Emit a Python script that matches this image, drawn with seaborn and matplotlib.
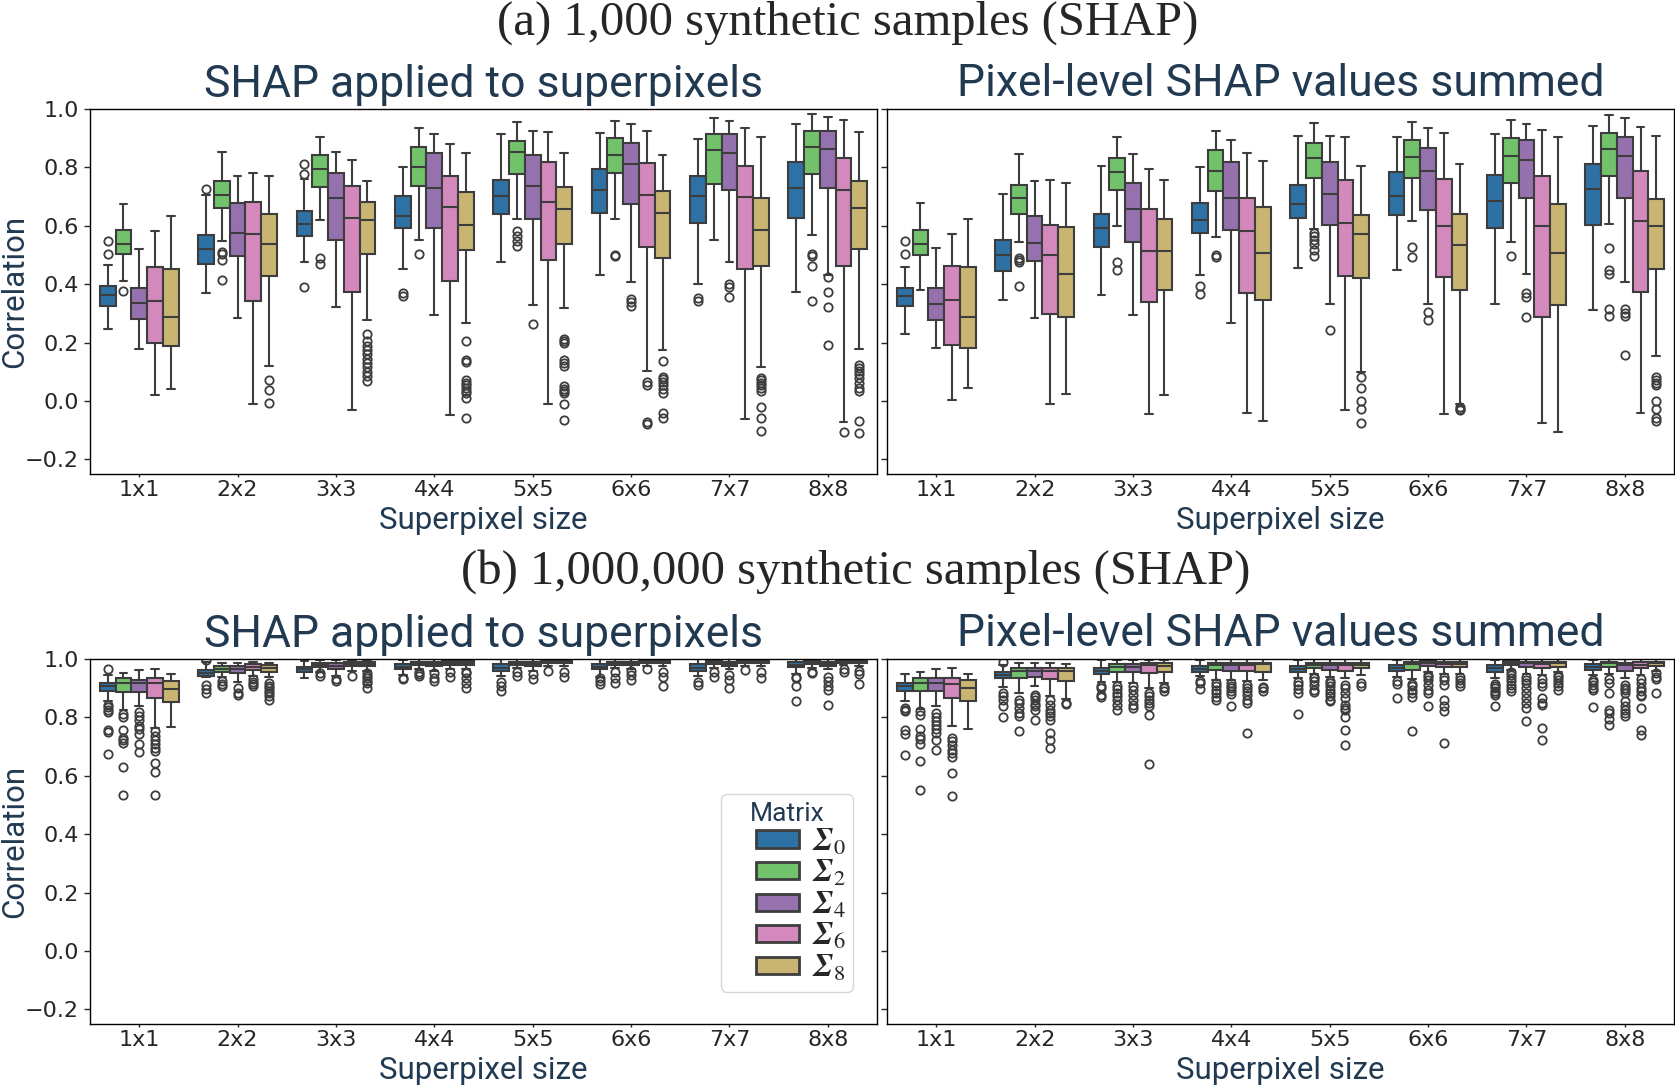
import numpy as np
import pandas as pd
import seaborn as sns
import matplotlib.pyplot as plt
from matplotlib.patches import Patch, Rectangle
from matplotlib.legend_handler import HandlerPatch

sizes = ["1x1", "2x2", "3x3", "4x4", "5x5", "6x6", "7x7", "8x8"]
matrices = [r"$\mathbfit{\Sigma}_0$", r"$\mathbfit{\Sigma}_2$", r"$\mathbfit{\Sigma}_4$",
            r"$\mathbfit{\Sigma}_6$", r"$\mathbfit{\Sigma}_8$"]
colors = ["#2e72a5", "#72c26b", "#9572ad", "#d489bd", "#c9b471"]

# ---- (a) SHAP applied to superpixels : rows = superpixel size, cols = matrix
a1_lo = [[0.246, 0.412, 0.178, 0.021, 0.041], [0.369, 0.547, 0.284, -0.010, 0.121],
         [0.475, 0.620, 0.323, -0.031, 0.277], [0.452, 0.552, 0.293, -0.048, 0.268],
         [0.477, 0.622, 0.328, -0.011, 0.320], [0.431, 0.625, 0.407, 0.103, 0.173],
         [0.399, 0.551, 0.477, -0.060, 0.117], [0.375, 0.569, 0.433, -0.072, 0.178]]
a1_q1 = [[0.325, 0.502, 0.281, 0.200, 0.188], [0.470, 0.661, 0.497, 0.343, 0.429],
         [0.566, 0.733, 0.551, 0.374, 0.505], [0.591, 0.735, 0.593, 0.411, 0.516],
         [0.639, 0.777, 0.624, 0.484, 0.538], [0.645, 0.781, 0.674, 0.526, 0.489],
         [0.608, 0.743, 0.721, 0.453, 0.461], [0.626, 0.778, 0.728, 0.461, 0.520]]
a1_med = [[0.362, 0.539, 0.335, 0.342, 0.286], [0.522, 0.706, 0.576, 0.571, 0.539],
          [0.606, 0.793, 0.694, 0.626, 0.621], [0.633, 0.802, 0.731, 0.666, 0.604],
          [0.703, 0.852, 0.737, 0.681, 0.656], [0.721, 0.842, 0.810, 0.707, 0.644],
          [0.703, 0.858, 0.849, 0.698, 0.587], [0.729, 0.871, 0.862, 0.723, 0.662]]
a1_q3 = [[0.393, 0.584, 0.388, 0.459, 0.453], [0.569, 0.752, 0.677, 0.682, 0.639],
         [0.650, 0.842, 0.781, 0.736, 0.681], [0.703, 0.869, 0.851, 0.769, 0.715],
         [0.757, 0.891, 0.843, 0.817, 0.732], [0.793, 0.902, 0.885, 0.814, 0.720],
         [0.771, 0.916, 0.913, 0.806, 0.696], [0.819, 0.923, 0.926, 0.831, 0.753]]
a1_hi = [[0.465, 0.674, 0.522, 0.581, 0.632], [0.706, 0.854, 0.772, 0.782, 0.771],
         [0.759, 0.904, 0.854, 0.826, 0.754], [0.803, 0.936, 0.913, 0.879, 0.849],
         [0.916, 0.954, 0.926, 0.921, 0.849], [0.918, 0.959, 0.950, 0.923, 0.841],
         [0.897, 0.968, 0.959, 0.936, 0.903], [0.949, 0.983, 0.974, 0.962, 0.920]]
a1_out = [
    [[0.502, 0.547], [0.376], [], [], []],
    [[0.727], [0.510, 0.505, 0.483, 0.413], [], [], [0.073, 0.036, -0.007]],
    [[0.812, 0.779, 0.390], [0.490, 0.468], [], [],
     [0.231, 0.205, 0.19, 0.175, 0.16, 0.145, 0.13, 0.115, 0.10, 0.085, 0.07]],
    [[0.371, 0.361], [0.502], [], [],
     [0.205, 0.14, 0.135, 0.071, 0.063, 0.054, 0.046, 0.034, 0.026, 0.011, -0.058]],
    [[], [0.581, 0.564, 0.547, 0.532], [0.262], [],
     [0.213, 0.205, 0.197, 0.142, 0.131, 0.12, 0.051, 0.04, 0.034, 0.028, -0.009, -0.066]],
    [[], [0.499, 0.495], [0.35, 0.338, 0.327], [0.065, 0.054, -0.072, -0.08],
     [0.137, 0.083, 0.074, 0.065, 0.054, 0.042, 0.028, -0.04, -0.057]],
    [[0.353, 0.342], [], [0.399, 0.391, 0.355], [],
     [0.08, 0.072, 0.063, 0.054, 0.046, 0.034, -0.019, -0.059, -0.104]],
    [[], [0.505, 0.495, 0.461, 0.344], [0.424, 0.374, 0.322, 0.192], [-0.105],
     [0.125, 0.114, 0.103, 0.091, 0.08, 0.063, 0.046, 0.034, -0.068, -0.11]],
]

# ---- (a) Pixel-level SHAP values summed
a2_lo = [[0.231, 0.380, 0.181, 0.005, 0.044], [0.346, 0.544, 0.284, -0.010, 0.023],
         [0.364, 0.598, 0.294, -0.044, 0.019], [0.433, 0.563, 0.267, -0.040, -0.068],
         [0.456, 0.590, 0.333, -0.031, 0.098], [0.450, 0.615, 0.333, -0.044, -0.011],
         [0.333, 0.544, 0.435, -0.077, -0.105], [0.313, 0.606, 0.407, -0.040, 0.155]]
a2_q1 = [[0.325, 0.501, 0.279, 0.191, 0.182], [0.446, 0.642, 0.478, 0.298, 0.286],
         [0.528, 0.723, 0.543, 0.339, 0.379], [0.576, 0.718, 0.584, 0.369, 0.347],
         [0.626, 0.762, 0.604, 0.427, 0.421], [0.638, 0.763, 0.653, 0.426, 0.380],
         [0.592, 0.748, 0.695, 0.288, 0.330], [0.604, 0.772, 0.696, 0.375, 0.452]]
a2_med = [[0.361, 0.538, 0.333, 0.345, 0.287], [0.499, 0.695, 0.540, 0.499, 0.434],
          [0.591, 0.784, 0.658, 0.515, 0.513], [0.620, 0.788, 0.694, 0.583, 0.506],
          [0.673, 0.833, 0.708, 0.610, 0.571], [0.703, 0.835, 0.789, 0.599, 0.535],
          [0.685, 0.838, 0.827, 0.598, 0.506], [0.725, 0.862, 0.838, 0.618, 0.599]]
a2_q3 = [[0.388, 0.584, 0.387, 0.461, 0.459], [0.552, 0.740, 0.632, 0.604, 0.597],
         [0.640, 0.833, 0.746, 0.659, 0.624], [0.679, 0.858, 0.819, 0.695, 0.666],
         [0.741, 0.885, 0.820, 0.757, 0.638], [0.785, 0.894, 0.868, 0.760, 0.642],
         [0.773, 0.899, 0.893, 0.769, 0.673], [0.811, 0.918, 0.905, 0.786, 0.691]]
a2_hi = [[0.459, 0.678, 0.523, 0.571, 0.622], [0.708, 0.846, 0.755, 0.757, 0.748],
         [0.805, 0.903, 0.845, 0.795, 0.756], [0.803, 0.925, 0.895, 0.850, 0.822],
         [0.909, 0.952, 0.907, 0.903, 0.806], [0.905, 0.956, 0.936, 0.917, 0.811],
         [0.913, 0.964, 0.948, 0.929, 0.904], [0.942, 0.981, 0.968, 0.937, 0.907]]
a2_out = [
    [[0.547, 0.502], [], [], [], []],
    [[], [0.49, 0.482, 0.475, 0.393], [], [], []],
    [[], [0.476, 0.450], [], [], []],
    [[0.395, 0.368], [0.501, 0.492], [], [], []],
    [[], [0.575, 0.564, 0.552, 0.539, 0.518, 0.495], [0.243], [],
     [0.083, 0.043, 0.001, -0.026, -0.074]],
    [[], [0.527, 0.493], [0.304, 0.279], [], [-0.02, -0.026, -0.03]],
    [[], [0.498], [0.370, 0.356, 0.289], [], []],
    [[], [0.523, 0.45, 0.436, 0.315, 0.290], [0.315, 0.302, 0.29, 0.158], [],
     [0.083, 0.072, 0.063, 0.054, 0.0, -0.026, -0.057, -0.068]],
]

# ---- (b) SHAP applied to superpixels
b1_lo = [[0.857, 0.826, 0.838, 0.764, 0.766], [0.940, 0.940, 0.920, 0.942, 0.940],
         [0.934, 0.957, 0.942, 0.960, 0.960], [0.945, 0.965, 0.960, 0.966, 0.966],
         [0.942, 0.968, 0.960, 0.975, 0.975], [0.940, 0.968, 0.965, 0.975, 0.975],
         [0.942, 0.968, 0.966, 0.975, 0.975], [0.950, 0.970, 0.966, 0.980, 0.975]]
b1_q1 = [[0.891, 0.886, 0.888, 0.866, 0.852], [0.943, 0.957, 0.953, 0.963, 0.957],
         [0.955, 0.972, 0.965, 0.976, 0.976], [0.965, 0.978, 0.976, 0.980, 0.980],
         [0.960, 0.980, 0.976, 0.985, 0.985], [0.965, 0.980, 0.980, 0.987, 0.985],
         [0.960, 0.983, 0.976, 0.985, 0.985], [0.972, 0.983, 0.976, 0.987, 0.985]]
b1_med = [[0.906, 0.917, 0.917, 0.917, 0.897], [0.953, 0.966, 0.966, 0.972, 0.970],
          [0.965, 0.980, 0.977, 0.983, 0.984], [0.974, 0.985, 0.983, 0.986, 0.987],
          [0.968, 0.986, 0.983, 0.989, 0.989], [0.974, 0.986, 0.985, 0.990, 0.989],
          [0.970, 0.988, 0.983, 0.989, 0.989], [0.980, 0.988, 0.983, 0.990, 0.989]]
b1_q3 = [[0.917, 0.934, 0.928, 0.936, 0.925], [0.963, 0.977, 0.976, 0.983, 0.980],
         [0.974, 0.985, 0.985, 0.991, 0.990], [0.983, 0.991, 0.991, 0.993, 0.993],
         [0.983, 0.991, 0.991, 0.994, 0.994], [0.983, 0.991, 0.991, 0.995, 0.994],
         [0.983, 0.994, 0.991, 0.994, 0.994], [0.991, 0.994, 0.991, 0.995, 0.994]]
b1_hi = [[0.945, 0.952, 0.963, 0.965, 0.948], [0.989, 0.988, 0.988, 0.991, 0.988],
         [0.993, 0.995, 0.996, 0.998, 0.997], [0.997, 0.999, 0.999, 0.999, 0.999],
         [0.999, 0.999, 0.999, 0.999, 0.999], [0.999, 0.999, 0.999, 0.999, 0.999],
         [0.999, 0.999, 0.999, 0.999, 0.999], [0.999, 0.999, 0.999, 0.999, 0.999]]
b1_out = [
    [[0.965, 0.843, 0.834, 0.824, 0.817, 0.756, 0.749, 0.675],
     [0.811, 0.803, 0.758, 0.730, 0.724, 0.713, 0.631, 0.533],
     [0.817, 0.804, 0.792, 0.769, 0.760, 0.744, 0.710, 0.682],
     [0.755, 0.735, 0.724, 0.710, 0.696, 0.684, 0.644, 0.613, 0.533], []],
    [[0.995, 0.91, 0.897, 0.885], [0.923, 0.914, 0.908], [0.90, 0.885, 0.877],
     [0.93, 0.922, 0.914, 0.906], [0.917, 0.908, 0.90, 0.891, 0.883, 0.872, 0.860]],
    [[], [0.951, 0.943], [0.932, 0.926], [0.942], [0.951, 0.943, 0.934, 0.925, 0.917, 0.902]],
    [[0.935, 0.93], [0.955, 0.948, 0.942], [0.951, 0.934, 0.926], [0.957, 0.94],
     [0.957, 0.951, 0.934, 0.917, 0.90]],
    [[0.92, 0.909, 0.892], [0.957, 0.942], [0.949, 0.93], [0.96], [0.955, 0.94]],
    [[0.935, 0.925, 0.915], [0.955, 0.936, 0.917], [0.96, 0.945, 0.928], [0.965],
     [0.957, 0.94, 0.906]],
    [[0.92, 0.91], [0.957, 0.94], [0.945, 0.928, 0.90], [0.962], [0.957, 0.934]],
    [[0.94, 0.934, 0.906, 0.855], [0.957, 0.951], [0.94, 0.923, 0.906, 0.894, 0.843],
     [0.965, 0.957], [0.96, 0.949, 0.914]],
]

# ---- (b) Pixel-level SHAP values summed
b2_lo = [[0.855, 0.829, 0.838, 0.769, 0.760], [0.905, 0.883, 0.906, 0.875, 0.862],
         [0.922, 0.921, 0.919, 0.902, 0.917], [0.942, 0.928, 0.928, 0.926, 0.928],
         [0.934, 0.950, 0.940, 0.934, 0.945], [0.940, 0.932, 0.955, 0.950, 0.950],
         [0.934, 0.962, 0.950, 0.945, 0.955], [0.945, 0.950, 0.935, 0.945, 0.960]]
b2_q1 = [[0.892, 0.891, 0.889, 0.866, 0.857], [0.934, 0.934, 0.940, 0.931, 0.926],
         [0.949, 0.957, 0.957, 0.951, 0.955], [0.957, 0.962, 0.960, 0.958, 0.957],
         [0.955, 0.970, 0.962, 0.959, 0.968], [0.960, 0.962, 0.976, 0.972, 0.972],
         [0.955, 0.980, 0.972, 0.968, 0.974], [0.962, 0.972, 0.959, 0.968, 0.976]]
b2_med = [[0.906, 0.919, 0.919, 0.915, 0.900], [0.945, 0.960, 0.960, 0.960, 0.960],
          [0.958, 0.974, 0.974, 0.980, 0.977], [0.966, 0.980, 0.980, 0.980, 0.982],
          [0.965, 0.980, 0.980, 0.980, 0.980], [0.968, 0.983, 0.988, 0.983, 0.983],
          [0.968, 0.985, 0.985, 0.983, 0.985], [0.974, 0.985, 0.980, 0.980, 0.985]]
b2_q3 = [[0.919, 0.936, 0.934, 0.936, 0.928], [0.955, 0.970, 0.970, 0.970, 0.970],
         [0.968, 0.982, 0.983, 0.985, 0.985], [0.976, 0.985, 0.985, 0.988, 0.988],
         [0.976, 0.988, 0.985, 0.988, 0.988], [0.980, 0.991, 0.994, 0.991, 0.991],
         [0.980, 0.993, 0.991, 0.991, 0.991], [0.983, 0.991, 0.988, 0.991, 0.991]]
b2_hi = [[0.948, 0.955, 0.965, 0.969, 0.949], [0.980, 0.985, 0.985, 0.987, 0.982],
         [0.995, 0.998, 0.998, 0.998, 0.998], [0.998, 0.999, 0.999, 0.999, 0.999],
         [0.998, 0.999, 0.999, 0.999, 0.999], [0.998, 0.999, 0.999, 0.999, 0.999],
         [0.998, 0.999, 0.999, 0.999, 0.999], [0.998, 0.999, 0.999, 0.999, 0.999]]
b2_out = [
    [[0.832, 0.826, 0.821, 0.758, 0.743, 0.671],
     [0.821, 0.809, 0.760, 0.735, 0.726, 0.710, 0.650, 0.553],
     [0.815, 0.801, 0.786, 0.775, 0.760, 0.747, 0.722, 0.690],
     [0.730, 0.718, 0.704, 0.690, 0.679, 0.665, 0.610, 0.530], []],
    [[0.991, 0.883, 0.872, 0.858, 0.838, 0.801], [0.858, 0.849, 0.832, 0.815, 0.804, 0.752],
     [0.877, 0.869, 0.86, 0.847, 0.838, 0.826, 0.792],
     [0.86, 0.843, 0.826, 0.815, 0.804, 0.792, 0.747, 0.724, 0.696], [0.851, 0.845]],
    [[0.908, 0.9, 0.877, 0.869], [0.906, 0.897, 0.883, 0.872, 0.858, 0.843, 0.826],
     [0.906, 0.894, 0.877, 0.86, 0.843, 0.832],
     [0.883, 0.872, 0.86, 0.849, 0.838, 0.809, 0.642], [0.905, 0.9, 0.889]],
    [[0.926, 0.917, 0.898], [0.917, 0.906, 0.894, 0.883, 0.869, 0.86],
     [0.919, 0.909, 0.9, 0.889, 0.881, 0.838],
     [0.91, 0.9, 0.89, 0.877, 0.86, 0.85, 0.747], [0.905, 0.9, 0.89]],
    [[0.92, 0.911, 0.898, 0.883, 0.813], [0.94, 0.934, 0.923, 0.911, 0.894, 0.886],
     [0.925, 0.917, 0.906, 0.894, 0.883, 0.872, 0.86, 0.855],
     [0.912, 0.9, 0.883, 0.866, 0.843, 0.832, 0.826, 0.801, 0.758, 0.705], [0.917, 0.909]],
    [[0.925, 0.915, 0.866], [0.915, 0.906, 0.894, 0.883, 0.869, 0.752],
     [0.945, 0.94, 0.928, 0.911, 0.894, 0.883, 0.838],
     [0.94, 0.928, 0.911, 0.86, 0.838, 0.821, 0.713], [0.94, 0.928, 0.917, 0.906]],
    [[0.915, 0.908, 0.9, 0.892, 0.885, 0.877, 0.84], [0.957, 0.945, 0.934, 0.923, 0.911, 0.9, 0.889],
     [0.94, 0.928, 0.917, 0.9, 0.883, 0.866, 0.849, 0.832, 0.786],
     [0.93, 0.917, 0.906, 0.866, 0.849, 0.843, 0.764, 0.724], [0.945, 0.94, 0.928, 0.917, 0.906, 0.894]],
    [[0.928, 0.92, 0.911, 0.9, 0.894, 0.834], [0.931, 0.917, 0.883, 0.826, 0.815, 0.794, 0.775],
     [0.91, 0.9, 0.894, 0.883, 0.855, 0.838, 0.826, 0.815, 0.806],
     [0.93, 0.917, 0.9, 0.889, 0.877, 0.872, 0.832, 0.758, 0.741], [0.951, 0.94, 0.931, 0.885]],
]


def long_table(lo, q1, med, q3, hi, out):
    # sample whose quartiles / whiskers / fliers reproduce the read box statistics
    rows = []
    for i, s in enumerate(sizes):
        for j, m in enumerate(matrices):
            iqr = q3[i][j] - q1[i][j]
            w_lo = max(lo[i][j], q1[i][j] - 1.5 * iqr + 1e-4)
            w_hi = min(hi[i][j], q3[i][j] + 1.5 * iqr - 1e-4)
            vals = ([w_lo] + [q1[i][j]] * 50 + [med[i][j]] * 50 + [q3[i][j]] * 50
                    + [w_hi] + list(out[i][j]))
            rows += [(s, m, v) for v in vals]
    return pd.DataFrame(rows, columns=["size", "matrix", "corr"])


panels = [
    ("SHAP applied to superpixels", long_table(a1_lo, a1_q1, a1_med, a1_q3, a1_hi, a1_out)),
    ("Pixel-level SHAP values summed", long_table(a2_lo, a2_q1, a2_med, a2_q3, a2_hi, a2_out)),
    ("SHAP applied to superpixels", long_table(b1_lo, b1_q1, b1_med, b1_q3, b1_hi, b1_out)),
    ("Pixel-level SHAP values summed", long_table(b2_lo, b2_q1, b2_med, b2_q3, b2_hi, b2_out)),
]

sns.set_style("ticks")
plt.rcParams["font.family"] = ["DejaVu Sans"]
plt.rcParams["mathtext.fontset"] = "stix"
navy = "#213a52"
edge = "#3d3d3d"

W, H = 1675, 1087
fig = plt.figure(figsize=(W / 100, H / 100), dpi=100)
boxes = [(90, 109), (887, 109), (90, 659), (887, 659)]
axes = []
for (x0, y0), (title, df) in zip(boxes, panels):
    ax = fig.add_axes([x0 / W, 1 - (y0 + 365) / H, 787 / W, 365 / H])
    sns.boxplot(data=df, x="size", y="corr", hue="matrix", order=sizes, hue_order=matrices,
                palette=colors, saturation=1, linecolor=edge, linewidth=1.5,
                fliersize=6, flierprops={"markeredgewidth": 1.3}, legend=False, ax=ax)
    ax.set_ylim(-0.25, 1.0)
    ax.set_yticks([-0.2, 0.0, 0.2, 0.4, 0.6, 0.8, 1.0])
    ax.tick_params(axis="x", labelsize=16, length=2.5, width=1, pad=1.5)
    ax.tick_params(axis="y", labelsize=16, length=4, width=1, pad=4)
    for sp in ax.spines.values():
        sp.set_visible(True)
        sp.set_color("black")
        sp.set_linewidth(1.0)
    ax.set_title(title, family="Roboto", fontsize=32, color=navy, pad=9)
    ax.set_xlabel("Superpixel size", family="Roboto", fontsize=22.5, color=navy)
    ax.xaxis.set_label_coords(0.5, -0.088)
    if x0 == 90:
        ax.set_ylabel("Correlation", family="Roboto", fontsize=22.5, color=navy)
        ax.yaxis.set_label_coords(-0.077, 0.5)
    else:
        ax.set_ylabel("")
        ax.set_yticklabels([])
    axes.append(ax)

fig.text(0.506, 1 - 23 / H, "(a) 1,000 synthetic samples (SHAP)",
         family="Liberation Serif", fontsize=35, ha="center", va="center")
fig.text(0.511, 1 - 572 / H, "(b) 1,000,000 synthetic samples (SHAP)",
         family="Liberation Serif", fontsize=35, ha="center", va="center")


def right_box(legend, orig_handle, xdescent, ydescent, width, height, fontsize):
    # colour swatch sits at the right end of the handle slot, as in the original
    w = 1.35 * fontsize
    return Rectangle((-xdescent + width - w, -ydescent), w, height)


handles = [Patch(facecolor=c, edgecolor=edge, linewidth=2) for c in colors]
leg = axes[2].legend(handles, matrices, title="Matrix", loc="lower right",
                     bbox_to_anchor=(0.97, 0.088), borderaxespad=0, fontsize=23,
                     frameon=True, fancybox=True, edgecolor="#cccccc",
                     handlelength=2.2, handleheight=0.45, handletextpad=0.4,
                     labelspacing=0.02, borderpad=0.25,
                     handler_map={Patch: HandlerPatch(patch_func=right_box)})
leg.get_title().set_fontfamily("Roboto")
leg.get_title().set_fontsize(19)
leg.get_title().set_color(navy)

fig.savefig("out.png", dpi=100)
